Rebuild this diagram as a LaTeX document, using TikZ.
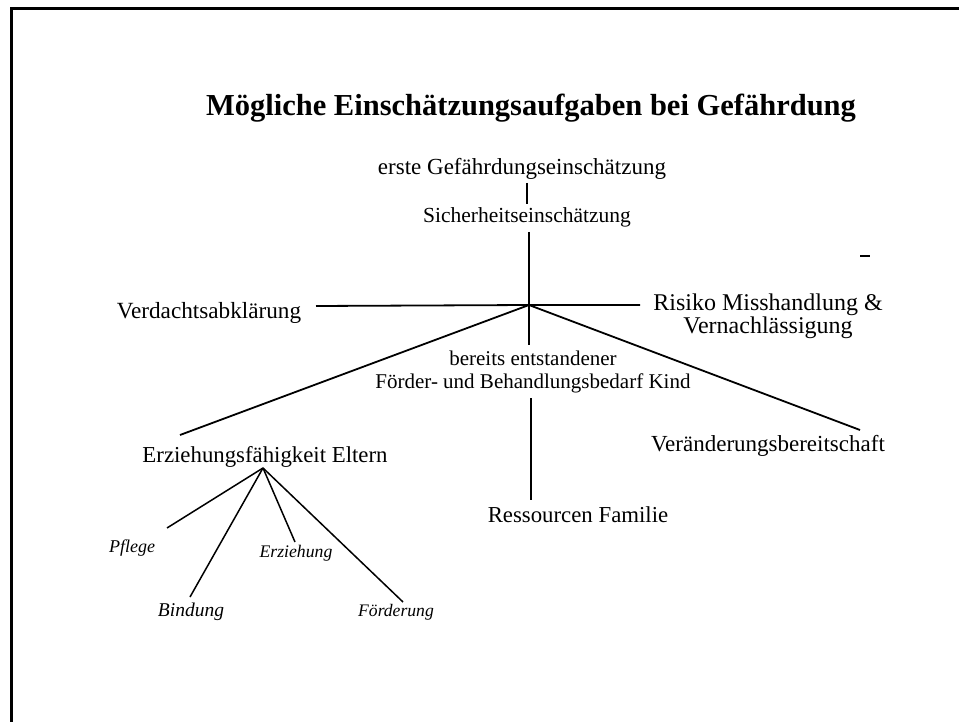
\documentclass[tikz,border=0pt]{standalone}
\usepackage{fontspec}
\setmainfont{Liberation Serif}
\newcommand{\fsz}[1]{\fontsize{#1}{#1}\selectfont}
\begin{document}
\begin{tikzpicture}[x=1pt,y=-1pt,
  lbl/.style={anchor=base,inner sep=0pt},
  sub/.style={anchor=base,inner sep=0pt},
  conn/.style={line width=1.8pt,black},
  subconn/.style={line width=1.5pt,black}]
\useasboundingbox (0,0) rectangle (959,722);
% frame
\draw[line width=3pt] (11,722) -- (11,8.5) -- (959,8.5);
% title
\node[anchor=base,inner sep=0pt,font=\fsz{30.5}\bfseries] (title) at (531,116) {Mögliche Einschätzungsaufgaben bei Gefährdung};
% level texts
\node[lbl,font=\fsz{23}] (erste) at (522,175) {erste Gefährdungseinschätzung};
\node[lbl,font=\fsz{21.5}] (sicher) at (527,223) {Sicherheitseinschätzung};
\node[lbl,font=\fsz{23.2}] (verd) at (209,318) {Verdachtsabklärung};
\node[lbl,font=\fsz{24},align=center] (risiko) at (768,334) {Risiko Misshandlung \&\\[-1pt]Vernachlässigung};
\node[lbl,font=\fsz{21},align=center] (bereits) at (533,388) {bereits entstandener\\[2pt]Förder- und Behandlungsbedarf Kind};
\node[lbl,font=\fsz{22.8}] (erz) at (265,462) {Erziehungsfähigkeit Eltern};
\node[lbl,font=\fsz{23}] (ver) at (768,451) {Veränderungsbereitschaft};
\node[lbl,font=\fsz{22.8}] (res) at (578,522) {Ressourcen Familie};
% sub labels
\node[sub,font=\fsz{18}\itshape] (pflege) at (132,552) {Pflege};
\node[sub,font=\fsz{17.7}\itshape] (erzg) at (296,557) {Erziehung};
\node[sub,font=\fsz{19.5}\itshape] (bind) at (191,616) {Bindung};
\node[sub,font=\fsz{17.6}\itshape] (foerd) at (396,616) {Förderung};
% coordinates
\coordinate (hub) at (529,305);
\coordinate (topA) at (527,183);
\coordinate (topB) at (527,204);
\coordinate (sichB) at (529,232);
\coordinate (berT) at (529,345);
\coordinate (verdE) at (316,306);
\coordinate (risE) at (640,305);
\coordinate (erzE) at (180,435);
\coordinate (verE) at (860,430);
\coordinate (resT) at (531,398);
\coordinate (resB) at (531,500);
\coordinate (sh) at (263,468);
\coordinate (pfE) at (167,528);
\coordinate (biE) at (190,597);
\coordinate (ezE) at (295,542);
\coordinate (foE) at (403,602);
% connectors
\draw[conn] (topA) -- (topB);
\draw[conn] (sichB) -- (hub) -- (berT);
\draw[conn] (verdE) -- (hub) -- (risE);
\draw[conn] (hub) -- (erzE);
\draw[conn] (hub) -- (verE);
\draw[conn] (resT) -- (resB);
\draw[subconn] (sh) -- (pfE);
\draw[subconn] (sh) -- (biE);
\draw[subconn] (sh) -- (ezE);
\draw[subconn] (sh) -- (foE);
% stray dash
\draw[line width=1.8pt] (860,256) -- (870,256);
\end{tikzpicture}
\end{document}
